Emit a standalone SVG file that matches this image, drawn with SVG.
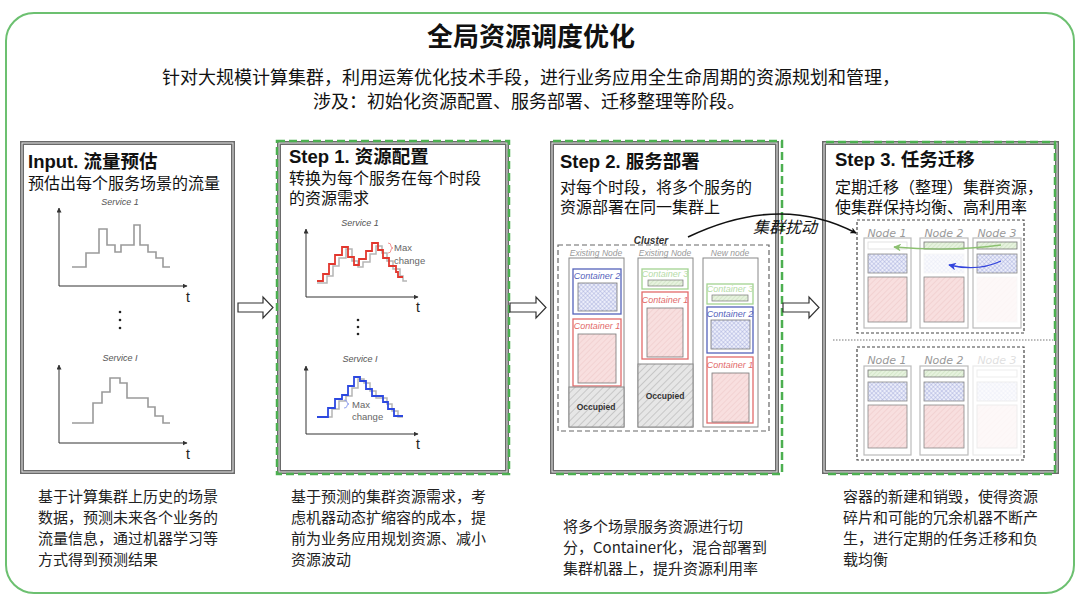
<svg xmlns="http://www.w3.org/2000/svg" width="1080" height="598" viewBox="0 0 1080 598">
<style>
.cjk{font-family:"Noto Sans CJK SC","Liberation Sans",sans-serif;fill:#111}
.hd{font-family:"Liberation Sans","Noto Sans CJK SC",sans-serif;font-weight:bold;font-size:18.5px;fill:#111}
.sub{font-family:"Noto Sans CJK SC",sans-serif;font-size:16px;fill:#111}
.desc{font-family:"Noto Sans CJK SC",sans-serif;font-size:15px;fill:#222}
.pan{fill:#fff;stroke:#6a6a6a;stroke-width:4}
.pin{fill:none;stroke:#e6e6e6;stroke-width:1}
.gd{fill:none;stroke:#4caf50;stroke-width:2.5;stroke-dasharray:8 4}
.ax{stroke:#333;stroke-width:1;fill:none}
.sl{stroke:#9a9a9a;stroke-width:1.6;fill:none}
.svc{font-family:"Liberation Sans",sans-serif;font-style:italic;font-size:9px;fill:#555}
.tl{font-family:"Liberation Sans",sans-serif;font-size:14px;fill:#222}
.mc{font-family:"Liberation Sans",sans-serif;font-size:9.5px;fill:#666}
.nl{font-family:"Liberation Sans",sans-serif;font-style:italic;font-size:8.5px;fill:#999;text-anchor:middle}
.cl{font-family:"Liberation Sans",sans-serif;font-style:italic;font-size:9px;text-anchor:middle}
.nd{fill:#fff;stroke:#888;stroke-width:1}
.n3{font-family:"DejaVu Sans",sans-serif;font-style:italic;font-size:11px;fill:#999;text-anchor:middle}
.col{fill:#fff;stroke:#bbb;stroke-width:1.2}
.arr{fill:#fff;stroke:#333;stroke-width:1.2}
</style>
<defs>
<pattern id="pk" width="4" height="4" patternUnits="userSpaceOnUse" patternTransform="rotate(45)"><rect width="4" height="4" fill="#f8dfdf"/><line x1="0" y1="0" x2="0" y2="4" stroke="#ecc6c6" stroke-width="1"/></pattern>
<pattern id="bl" width="3" height="3" patternUnits="userSpaceOnUse" patternTransform="rotate(45)"><rect width="3" height="3" fill="#eceefa"/><line x1="0" y1="0" x2="0" y2="3" stroke="#9aa2d8" stroke-width="0.8"/><line x1="0" y1="0" x2="3" y2="0" stroke="#9aa2d8" stroke-width="0.8"/></pattern>
<pattern id="gy" width="5" height="5" patternUnits="userSpaceOnUse" patternTransform="rotate(45)"><rect width="5" height="5" fill="#e6e6e6"/><line x1="0" y1="0" x2="0" y2="5" stroke="#a8a8a8" stroke-width="1"/></pattern>
<pattern id="gn" width="3" height="3" patternUnits="userSpaceOnUse" patternTransform="rotate(45)"><rect width="3" height="3" fill="#e6f2de"/><line x1="0" y1="0" x2="0" y2="3" stroke="#bcd8ad" stroke-width="0.8"/></pattern>
<marker id="ah" viewBox="0 0 10 10" refX="9" refY="5" markerWidth="5" markerHeight="5" orient="auto"><path d="M0,0 L10,5 L0,10 Z" fill="#333"/></marker>
<marker id="bk" viewBox="0 0 10 10" refX="9" refY="5" markerWidth="4" markerHeight="4" orient="auto"><path d="M0,0 L10,5 L0,10 L3,5 Z" fill="#111"/></marker>
<marker id="gm" viewBox="0 0 10 10" refX="9" refY="5" markerWidth="6" markerHeight="6" orient="auto"><path d="M0,0 L10,5 L0,10 L3,5 Z" fill="#8cc070"/></marker>
<marker id="bm" viewBox="0 0 10 10" refX="9" refY="5" markerWidth="6" markerHeight="6" orient="auto"><path d="M0,0 L10,5 L0,10 L3,5 Z" fill="#3344dd"/></marker>
</defs>
<rect width="1080" height="598" fill="#fff"/>
<rect x="6" y="13" width="1068" height="580" rx="28" fill="#fff" stroke="#6cc070" stroke-width="2"/>
<text x="531" y="46" class="cjk" font-size="26" font-weight="bold" text-anchor="middle">全局资源调度优化</text>
<text x="531" y="84" class="cjk" font-size="18" text-anchor="middle">针对大规模计算集群，利用运筹优化技术手段，进行业务应用全生命周期的资源规划和管理，</text>
<text x="529" y="108" class="cjk" font-size="18" text-anchor="middle">涉及：初始化资源配置、服务部署、迁移整理等阶段。</text>

<g id="input">
<rect x="22" y="143" width="211" height="329" class="pan"/>
<rect x="22" y="143" width="211" height="329" class="pin"/>
<text x="28" y="168" class="hd">Input. 流量预估</text>
<text x="28" y="189" class="sub">预估出每个服务场景的流量</text>
<text x="120" y="205" class="svc" text-anchor="middle">Service 1</text>
<path d="M59,286 V208" class="ax" marker-end="url(#ah)"/>
<path d="M59,286 H187" class="ax" marker-end="url(#ah)"/>
<text x="186" y="302" class="tl">t</text>
<path d="M72,267 H86 V253 H99 V229 H107 V245 H115 V252 H121 V245 H134 V225 H140 V245 H148 V252 H156 V258 H163 V267 H170" class="sl"/>
<circle cx="120" cy="312" r="1.3" fill="#222"/><circle cx="120" cy="320" r="1.3" fill="#222"/><circle cx="120" cy="328" r="1.3" fill="#222"/>
<text x="120" y="361" class="svc" text-anchor="middle">Service I</text>
<path d="M59,443 V365" class="ax" marker-end="url(#ah)"/>
<path d="M59,443 H187" class="ax" marker-end="url(#ah)"/>
<text x="186" y="459" class="tl">t</text>
<path d="M72,423 H93 V403 H102 V392 H110 V378 H120 V383 H127 V398 H148 V407 H155 V416 H163 V423 H170" class="sl"/>
</g>

<g id="step1">
<rect x="279" y="143" width="228" height="329" class="pan"/>
<rect x="279" y="143" width="228" height="329" class="pin"/>
<rect x="277" y="141" width="232" height="333" class="gd"/>
<text x="289" y="163" class="hd">Step 1. 资源配置</text>
<text x="289" y="184" class="sub">转换为每个服务在每个时段</text>
<text x="289" y="204" class="sub">的资源需求</text>
<text x="360" y="226" class="svc" text-anchor="middle">Service 1</text>
<path d="M306,297 V229" class="ax" marker-end="url(#ah)"/>
<path d="M306,297 H418" class="ax" marker-end="url(#ah)"/>
<text x="416" y="312" class="tl">t</text>
<path d="M317,283 H327 V276 H333 V266 H339 V258 H346 V249 H352 V261 H358 V267 H363 V262 H370 V254 H376 V246 H382 V253 H387 V261 H393 V269 H400 V276 H403 V281 H407" stroke="#b5b5b5" stroke-width="1.5" fill="none"/>
<path d="M317,281 H323 V274 H329 V264 H335 V255 H342 V247 H348 V257 H354 V265 H359 V259 H366 V251 H372 V243 H378 V250 H383 V258 H389 V266 H396 V272 H398 V277 H403" stroke="#e2372e" stroke-width="1.8" fill="none"/>
<path d="M388,243 Q391,243 391,246 Q391,248 393,248 Q391,248 391,250 Q391,253 388,253" stroke="#ee8888" stroke-width="0.9" fill="none"/>
<text x="394" y="251" class="mc">Max</text>
<text x="394" y="264" class="mc">change</text>
<circle cx="358" cy="320" r="1.3" fill="#222"/><circle cx="358" cy="327" r="1.3" fill="#222"/><circle cx="358" cy="334" r="1.3" fill="#222"/>
<text x="360" y="362" class="svc" text-anchor="middle">Service I</text>
<path d="M306,434 V366" class="ax" marker-end="url(#ah)"/>
<path d="M306,434 H418" class="ax" marker-end="url(#ah)"/>
<text x="416" y="449" class="tl">t</text>
<path d="M317,417 H332 V409 H339 V401 H346 V396 H352 V388 H358 V379 H364 V383 H370 V391 H376 V398 H387 V404 H392 V411 H398 V417 H403" stroke="#b5b5b5" stroke-width="1.5" fill="none"/>
<path d="M317,417 H328 V408 H335 V399 H342 V395 H348 V386 H354 V377 H360 V381 H366 V389 H372 V396 H383 V402 H388 V409 H394 V416 H403" stroke="#2c48e0" stroke-width="1.8" fill="none"/>
<path d="M344,400 Q347,400 347,402 Q347,404 349,404 Q347,404 347,406 Q347,408 344,408" stroke="#8899ee" stroke-width="0.9" fill="none"/>
<text x="352" y="408" class="mc">Max</text>
<text x="352" y="420" class="mc">change</text>
</g>

<g id="step2">
<rect x="552" y="143" width="225" height="329" class="pan"/>
<rect x="552" y="143" width="225" height="329" class="pin"/>
<path d="M553,141 H782 V474 H553" class="gd"/>
<text x="560" y="168" class="hd">Step 2. 服务部署</text>
<text x="560" y="193" class="sub">对每个时段，将多个服务的</text>
<text x="560" y="213" class="sub">资源部署在同一集群上</text>
<text x="651" y="244" font-family="Liberation Sans, sans-serif" font-weight="bold" font-style="italic" font-size="10" fill="#333" text-anchor="middle">Cluster</text>
<rect x="558" y="245" width="211" height="186" fill="none" stroke="#666" stroke-width="1.2" stroke-dasharray="5 3"/>
<g id="node-a">
<text x="596" y="256" class="nl">Existing Node</text>
<rect x="569" y="258" width="55" height="169" class="nd"/>
<rect x="573" y="269" width="48" height="45" fill="#fff" stroke="#5563bb" stroke-width="1.3"/>
<text x="597" y="279" class="cl" fill="#5563bb">Container 2</text>
<rect x="578" y="283" width="39" height="28" fill="url(#bl)" stroke="#777" stroke-width="0.8"/>
<rect x="573" y="319" width="48" height="67" fill="#fff" stroke="#e26a6a" stroke-width="1.3"/>
<text x="597" y="329" class="cl" fill="#e26a6a">Container 1</text>
<rect x="578" y="334" width="38" height="49" fill="url(#pk)" stroke="#777" stroke-width="0.8"/>
<rect x="569" y="387" width="55" height="40" fill="url(#gy)" stroke="#888" stroke-width="1"/>
<text x="596" y="410" font-family="Liberation Sans, sans-serif" font-weight="bold" font-size="8.5" fill="#333" text-anchor="middle">Occupied</text>
</g>
<g id="node-b">
<text x="665" y="256" class="nl">Existing Node</text>
<rect x="638" y="258" width="55" height="169" class="nd"/>
<rect x="642" y="269" width="46" height="20" fill="#fff" stroke="#a3d391" stroke-width="1.3"/>
<text x="665" y="277" class="cl" fill="#b6dba8">Container 3</text>
<rect x="648" y="280" width="35" height="6" fill="url(#gn)" stroke="#777" stroke-width="0.7"/>
<rect x="642" y="292" width="46" height="67" fill="#fff" stroke="#e26a6a" stroke-width="1.3"/>
<text x="665" y="303" class="cl" fill="#e26a6a">Container 1</text>
<rect x="647" y="308" width="36" height="49" fill="url(#pk)" stroke="#777" stroke-width="0.8"/>
<rect x="638" y="364" width="55" height="63" fill="url(#gy)" stroke="#888" stroke-width="1"/>
<text x="665" y="399" font-family="Liberation Sans, sans-serif" font-weight="bold" font-size="8.5" fill="#333" text-anchor="middle">Occupied</text>
</g>
<g id="node-c">
<text x="730" y="256" class="nl">New node</text>
<rect x="703" y="258" width="55" height="169" class="nd"/>
<rect x="707" y="284" width="46" height="20" fill="#fff" stroke="#a3d391" stroke-width="1.3"/>
<text x="730" y="292" class="cl" fill="#b6dba8">Container 3</text>
<rect x="712" y="295" width="36" height="6" fill="url(#gn)" stroke="#777" stroke-width="0.7"/>
<rect x="707" y="307" width="46" height="46" fill="#fff" stroke="#5563bb" stroke-width="1.3"/>
<text x="730" y="317" class="cl" fill="#5563bb">Container 2</text>
<rect x="711" y="320" width="39" height="29" fill="url(#bl)" stroke="#777" stroke-width="0.8"/>
<rect x="707" y="357" width="46" height="66" fill="#fff" stroke="#e26a6a" stroke-width="1.3"/>
<text x="730" y="368" class="cl" fill="#e26a6a">Container 1</text>
<rect x="712" y="373" width="37" height="49" fill="url(#pk)" stroke="#777" stroke-width="0.8"/>
</g>
</g>

<g id="step3">
<rect x="824" y="143" width="233" height="329" class="pan"/>
<rect x="824" y="143" width="233" height="329" class="pin"/>
<path d="M826,142 H1055 V474 H826" class="gd"/>
<text x="835" y="166" class="hd">Step 3. 任务迁移</text>
<text x="835" y="193" class="sub">定期迁移（整理）集群资源，</text>
<text x="835" y="213" class="sub">使集群保持均衡、高利用率</text>
<rect x="857" y="220" width="167" height="113" fill="none" stroke="#444" stroke-width="1.2" stroke-dasharray="3 2"/>
<text x="887" y="237" class="n3">Node 1</text>
<text x="944" y="237" class="n3">Node 2</text>
<text x="997" y="237" class="n3">Node 3</text>
<rect x="864" y="238" width="47" height="90" class="col"/>
<rect x="920" y="238" width="48" height="90" class="col"/>
<rect x="973" y="238" width="48" height="90" class="col"/>
<rect x="868" y="242" width="39" height="7" fill="#fff" stroke="#ddd" stroke-width="0.8"/>
<rect x="868" y="254" width="39" height="19" fill="url(#bl)" stroke="#888" stroke-width="0.8"/>
<rect x="868" y="277" width="39" height="45" fill="url(#pk)" stroke="#888" stroke-width="0.8"/>
<rect x="924" y="242" width="40" height="7" fill="url(#gn)" stroke="#777" stroke-width="0.8"/>
<rect x="924" y="254" width="40" height="19" fill="url(#bl)" stroke="#ddd" stroke-width="0.8" opacity="0.25"/>
<rect x="924" y="277" width="40" height="45" fill="url(#pk)" stroke="#888" stroke-width="0.8"/>
<rect x="977" y="242" width="40" height="7" fill="url(#gn)" stroke="#777" stroke-width="0.8"/>
<rect x="977" y="254" width="40" height="19" fill="url(#bl)" stroke="#888" stroke-width="0.8"/>
<rect x="977" y="277" width="40" height="45" fill="url(#pk)" stroke="#ddd" stroke-width="0.8" opacity="0.2"/>
<path d="M1001,245 Q950,252 894,247" stroke="#8cc070" stroke-width="1.3" fill="none" marker-end="url(#gm)"/>
<path d="M1001,261 Q978,272 949,265" stroke="#3344dd" stroke-width="1.3" fill="none" marker-end="url(#bm)"/>
<line x1="833" y1="340" x2="1053" y2="340" stroke="#777" stroke-width="1" stroke-dasharray="1.5 1.5"/>
<rect x="857" y="347" width="167" height="113" fill="none" stroke="#444" stroke-width="1.2" stroke-dasharray="3 2"/>
<text x="887" y="364" class="n3">Node 1</text>
<text x="944" y="364" class="n3">Node 2</text>
<text x="997" y="364" class="n3" opacity="0.3">Node 3</text>
<rect x="864" y="366" width="47" height="89" class="col"/>
<rect x="920" y="366" width="48" height="89" class="col"/>
<rect x="973" y="366" width="48" height="89" class="col" opacity="0.3"/>
<rect x="868" y="370" width="39" height="7" fill="url(#gn)" stroke="#777" stroke-width="0.8"/>
<rect x="868" y="382" width="39" height="19" fill="url(#bl)" stroke="#888" stroke-width="0.8"/>
<rect x="868" y="405" width="39" height="43" fill="url(#pk)" stroke="#888" stroke-width="0.8"/>
<rect x="924" y="370" width="40" height="7" fill="url(#gn)" stroke="#777" stroke-width="0.8"/>
<rect x="924" y="382" width="40" height="19" fill="url(#bl)" stroke="#888" stroke-width="0.8"/>
<rect x="924" y="405" width="40" height="43" fill="url(#pk)" stroke="#888" stroke-width="0.8"/>
<g opacity="0.2">
<rect x="977" y="370" width="40" height="7" fill="#fff" stroke="#999" stroke-width="0.8"/>
<rect x="977" y="382" width="40" height="19" fill="url(#bl)" stroke="#999" stroke-width="0.8"/>
<rect x="977" y="405" width="40" height="43" fill="url(#pk)" stroke="#999" stroke-width="0.8"/>
</g>
</g>

<g id="connectors">
<polygon points="238,303 263,303 263,297 273,307.5 263,318 263,312 238,312" class="arr"/>
<polygon points="510,303 536,303 536,297 546,307.5 536,318 536,312 510,312" class="arr"/>
<polygon points="783,303 809,303 809,297 819,307.5 809,318 809,312 783,312" class="arr"/>
<path d="M688,237 Q780,193 856,233" stroke="#111" stroke-width="1.6" fill="none" marker-end="url(#bk)"/>
<text x="785" y="233" class="cjk" font-size="16" font-style="italic" text-anchor="middle">集群扰动</text>
</g>

<g id="descriptions">
<text class="desc"><tspan x="38" y="502">基于计算集群上历史的场景</tspan><tspan x="38" y="523">数据，预测未来各个业务的</tspan><tspan x="38" y="544">流量信息，通过机器学习等</tspan><tspan x="38" y="565">方式得到预测结果</tspan></text>
<text class="desc"><tspan x="291" y="502">基于预测的集群资源需求，考</tspan><tspan x="291" y="523">虑机器动态扩缩容的成本，提</tspan><tspan x="291" y="544">前为业务应用规划资源、减小</tspan><tspan x="291" y="565">资源波动</tspan></text>
<text class="desc"><tspan x="563" y="532">将多个场景服务资源进行切</tspan><tspan x="563" y="553">分，Container化，混合部署到</tspan><tspan x="563" y="574">集群机器上，提升资源利用率</tspan></text>
<text class="desc"><tspan x="843" y="502">容器的新建和销毁，使得资源</tspan><tspan x="843" y="523">碎片和可能的冗余机器不断产</tspan><tspan x="843" y="544">生，进行定期的任务迁移和负</tspan><tspan x="843" y="565">载均衡</tspan></text>
</g>
</svg>
